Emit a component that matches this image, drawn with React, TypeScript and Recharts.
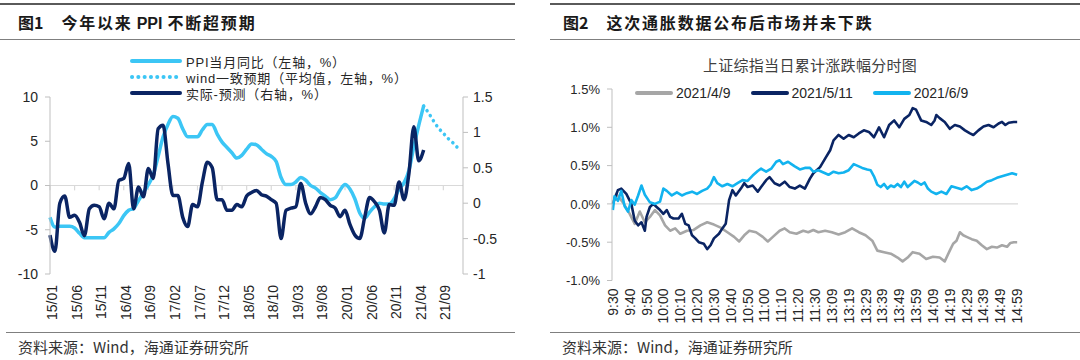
import React from 'react';
import { LineChart, Line, XAxis, YAxis, ReferenceLine, Legend } from 'recharts';

const FONT = '"Liberation Sans", Arial, "Noto Sans CJK SC", sans-serif';
const CJK = '"Noto Sans CJK SC", "Liberation Sans", sans-serif';
const TXT = '#262626';

// ---------- Left chart data ----------
const monthCategories: string[] = (() => {
  const out: string[] = [];
  for (let y = 15; y <= 22; y++) {
    for (let m = 1; m <= 12; m++) {
      if (y === 22 && m > 1) break;
      out.push(`${y}/${String(m).padStart(2, '0')}`);
    }
  }
  return out;
})();

const ppiYoY: number[] = [
  -3.6, -4.7, -4.6, -4.6, -4.6, -4.8, -5.4, -5.9, -5.9, -5.9, -5.9, -5.9,
  -5.3, -4.9, -4.3, -3.4, -2.8, -2.6, -1.7, -0.8, 0.1, 1.2, 3.3, 5.5,
  6.9, 7.8, 7.6, 6.4, 5.5, 5.5, 5.5, 6.3, 6.9, 6.9, 5.8, 4.9,
  4.3, 3.7, 3.1, 3.4, 4.1, 4.7, 4.6, 4.1, 3.6, 3.3, 2.7, 0.9,
  0.1, 0.1, 0.4, 0.9, 0.6, 0.0, -0.3, -0.8, -1.2, -1.6, -1.4, -0.5,
  0.1, -0.4, -1.5, -3.1, -3.7, -3.0, -2.4, -2.0, -2.1, -2.1, -1.5, -0.4,
  0.3, 1.7, 4.4, 6.8, 9.0,
];
const windStartIndex = 76;
const windConsensus: number[] = [9.0, 8.2, 7.3, 6.5, 5.9, 5.3, 4.8, 4.2];
const actualMinusForecast: number[] = [
  -0.45, -0.68, 0.0, 0.1, -0.2, -0.17, -0.27, -0.46, -0.08, -0.03, -0.05, -0.22,
  0.0, -0.08, 0.32, 0.35, 0.56, -0.08, 0.23, 0.09, 0.49, 0.35, 1.05, 1.1,
  0.56, 0.11, 0.11, -0.2, -0.33, -0.02, -0.05, 0.3, 0.58, 0.5, 0.05, 0.05,
  -0.1, -0.1, -0.02, -0.05, 0.1, 0.15, 0.18, 0.12, 0.1, 0.05, 0.0, -0.5,
  -0.1, -0.07, -0.05, 0.28, 0.0, -0.15, -0.05, 0.08, 0.05, -0.03, -0.07, -0.19,
  -0.1, -0.3, -0.45, -0.5, -0.2, 0.08, 0.02, -0.1, -0.42, -0.02, -0.03, 0.3,
  0.05, 0.42, 1.08, 0.6, 0.75,
];
const leftTicks: number[] = [-10, -5, 0, 5, 10];
const rightTicks: number[] = [-1, -0.5, 0, 0.5, 1, 1.5];

const leftData = monthCategories.map((c, i) => ({
  c,
  ppi: i < ppiYoY.length ? ppiYoY[i] : null,
  wind: i >= windStartIndex && i < windStartIndex + windConsensus.length ? windConsensus[i - windStartIndex] : null,
  diff: i < actualMinusForecast.length ? actualMinusForecast[i] : null,
}));

// ---------- Right chart data ([minute index, cumulative change %]) ----------
const timeLabels: string[] = [
  '9:30', '9:40', '9:50', '10:00', '10:10', '10:20', '10:30', '10:40', '10:50', '11:00', '11:10', '11:20', '11:30',
  '13:09', '13:19', '13:29', '13:39', '13:49', '13:59', '14:09', '14:19', '14:29', '14:39', '14:49', '14:59',
];
const pctTicks: number[] = [-1, -0.5, 0, 0.5, 1, 1.5];

const apr9: [number, number][] = [
  [0, 0], [2, 0.13], [6, 0.02], [10, -0.13], [13, -0.26], [16, -0.1], [19, -0.24], [22, -0.17], [25, -0.08], [28, -0.15],
  [31, -0.28], [34, -0.35], [37, -0.32], [40, -0.39], [44, -0.35], [48, -0.34], [52, -0.28], [56, -0.24], [60, -0.27],
  [64, -0.31], [68, -0.37], [72, -0.43], [75, -0.49], [78, -0.41], [81, -0.35], [85, -0.37], [89, -0.43], [92, -0.49],
  [95, -0.43], [99, -0.35], [102, -0.32], [105, -0.37], [109, -0.39], [113, -0.35], [116, -0.37], [119, -0.34],
  [122, -0.37], [126, -0.35], [130, -0.37], [134, -0.4], [138, -0.37], [142, -0.32], [146, -0.37], [150, -0.41],
  [154, -0.48], [157, -0.61], [161, -0.63], [165, -0.65], [169, -0.7], [172, -0.75], [175, -0.7], [178, -0.63],
  [182, -0.65], [186, -0.72], [190, -0.69], [194, -0.7], [197, -0.75], [200, -0.61], [202, -0.52], [204, -0.48],
  [206, -0.37], [208, -0.41], [210, -0.43], [213, -0.46], [216, -0.48], [219, -0.54], [222, -0.59], [225, -0.56],
  [228, -0.57], [231, -0.54], [234, -0.56], [236, -0.51], [238, -0.5], [240, -0.5],
];
const may11: [number, number][] = [
  [0, 0], [3, 0.18], [5, 0.2], [8, 0.13], [11, 0.0], [13, -0.22], [15, -0.28], [17, -0.24], [19, -0.35], [20, -0.17],
  [22, -0.04], [24, 0.0], [26, -0.04], [28, -0.08], [30, -0.13], [32, -0.08], [34, -0.17], [36, -0.19], [39, -0.19],
  [41, -0.13], [43, -0.26], [45, -0.28], [47, -0.41], [49, -0.45], [51, -0.5], [54, -0.52], [56, -0.59], [58, -0.54],
  [60, -0.45], [63, -0.39], [65, -0.32], [67, -0.26], [69, 0.05], [71, 0.18], [73, 0.11], [76, 0.2], [78, 0.27],
  [80, 0.22], [83, 0.24], [86, 0.16], [88, 0.22], [91, 0.31], [93, 0.35], [96, 0.27], [99, 0.24], [102, 0.29],
  [105, 0.22], [108, 0.2], [111, 0.24], [114, 0.2], [117, 0.33], [119, 0.4], [123, 0.48], [126, 0.59], [129, 0.7],
  [131, 0.83], [134, 0.9], [137, 0.85], [140, 0.9], [143, 0.87], [146, 0.92], [149, 0.96], [152, 0.94], [155, 0.87],
  [158, 1.0], [161, 0.87], [164, 1.03], [167, 1.09], [170, 1.0], [173, 1.11], [176, 1.16], [178, 1.25], [180, 1.23],
  [183, 1.09], [186, 1.07], [189, 1.03], [191, 1.09], [192, 1.16], [194, 1.12], [197, 1.07], [200, 0.98], [203, 1.03],
  [206, 1.01], [209, 0.96], [212, 0.92], [214, 0.9], [217, 0.96], [220, 1.01], [223, 1.03], [226, 1.0], [229, 1.05],
  [231, 1.07], [233, 1.03], [235, 1.06], [238, 1.07], [240, 1.07],
];
const jun9: [number, number][] = [
  [0, -0.08], [1, 0.1], [3, 0.04], [5, 0.17], [7, -0.03], [9, -0.1], [11, 0.05], [13, -0.01], [15, 0.11], [17, 0.24],
  [19, 0.12], [22, 0.02], [25, 0.0], [28, 0.03], [30, 0.2], [32, 0.17], [35, 0.11], [38, 0.15], [41, 0.11], [44, 0.14],
  [47, 0.16], [50, 0.13], [53, 0.17], [56, 0.2], [58, 0.25], [60, 0.35], [62, 0.27], [65, 0.23], [68, 0.26], [71, 0.23],
  [74, 0.27], [77, 0.31], [80, 0.3], [83, 0.37], [86, 0.43], [88, 0.46], [91, 0.42], [94, 0.46], [97, 0.55], [99, 0.57],
  [101, 0.52], [104, 0.55], [106, 0.52], [108, 0.49], [111, 0.45], [114, 0.47], [117, 0.47], [119, 0.42], [122, 0.44],
  [125, 0.41], [128, 0.38], [131, 0.42], [134, 0.4], [137, 0.41], [140, 0.44], [143, 0.52], [145, 0.5], [148, 0.47],
  [151, 0.45], [153, 0.44], [155, 0.36], [157, 0.25], [159, 0.22], [161, 0.26], [163, 0.2], [165, 0.24], [167, 0.22],
  [169, 0.26], [171, 0.22], [173, 0.29], [175, 0.22], [177, 0.26], [179, 0.3], [181, 0.28], [183, 0.25], [185, 0.28],
  [187, 0.2], [189, 0.16], [192, 0.13], [195, 0.16], [198, 0.13], [201, 0.23], [204, 0.21], [207, 0.19], [210, 0.23],
  [213, 0.18], [216, 0.2], [219, 0.24], [222, 0.29], [225, 0.31], [228, 0.34], [231, 0.36], [234, 0.38], [237, 0.4],
  [240, 0.38],
];
const toPoints = (arr: [number, number][]) => arr.map(([m, v]) => ({ m, v }));

// ---------- Colors ----------
const LIGHT_L = '#3cc6f5';
const NAVY = '#0a2463';
const GRAY = '#a6a6a6';
const LIGHT_R = '#12b3ef';
const AXIS = '#bfbfbf';
const GRID = '#d9d9d9';

// ---------- Ticks ----------
const LeftXTick = (props: any) => {
  const { x, y, payload } = props;
  return (
    <text transform={`translate(${x + 7},${y + 11}) rotate(-90)`} textAnchor="end" fontSize={14} fill={TXT} fontFamily={FONT}>
      {payload.value}
    </text>
  );
};
const RightXTick = (props: any) => {
  const { x, y, payload } = props;
  const label = timeLabels[Math.round(payload.value / 10)];
  return (
    <text transform={`translate(${x + 5},${y + 8}) rotate(-90)`} textAnchor="end" fontSize={14} fill={TXT} fontFamily={FONT}>
      {label}
    </text>
  );
};

// ---------- Legends ----------
const leftLegendRows = [
  { label: 'PPI当月同比（左轴，%）', color: LIGHT_L, dotted: false },
  { label: 'wind一致预期（平均值，左轴，%）', color: LIGHT_L, dotted: true },
  { label: '实际-预测（右轴，%）', color: NAVY, dotted: false },
];
const LeftLegend = () => (
  <div style={{ fontFamily: FONT, fontSize: 13, color: TXT, letterSpacing: 0.8 }}>
    {leftLegendRows.map((r) => (
      <div key={r.label} style={{ display: 'flex', alignItems: 'center', height: 16, whiteSpace: 'nowrap' }}>
        <svg width={52} height={8} style={{ marginRight: 4 }}>
          <line x1={2} y1={4} x2={50} y2={4} stroke={r.color} strokeWidth={4} strokeLinecap="round"
            strokeDasharray={r.dotted ? '0.1 6.2' : undefined} />
        </svg>
        <span>{r.label}</span>
      </div>
    ))}
  </div>
);

const rightLegendItems = [
  { label: '2021/4/9', color: GRAY },
  { label: '2021/5/11', color: NAVY },
  { label: '2021/6/9', color: LIGHT_R },
];
const RightLegend = () => (
  <div style={{ display: 'flex', alignItems: 'center', fontFamily: FONT, fontSize: 14, color: TXT, whiteSpace: 'nowrap' }}>
    {rightLegendItems.map((it) => (
      <div key={it.label} style={{ display: 'flex', alignItems: 'center', marginRight: 20, height: 16 }}>
        <svg width={38} height={8} style={{ marginRight: 3 }}>
          <line x1={2} y1={4} x2={36} y2={4} stroke={it.color} strokeWidth={4} strokeLinecap="round" />
        </svg>
        <span>{it.label}</span>
      </div>
    ))}
  </div>
);

// ---------- Charts ----------
const LeftChart = () => (
  <LineChart width={540} height={360} data={leftData} margin={{ top: 97, right: 37, bottom: 46, left: 5 }}>
    <XAxis dataKey="c" interval={4} axisLine={false} tickLine={false} tickSize={0} tickMargin={0} height={40}
      tick={<LeftXTick />} />
    <YAxis yAxisId="left" domain={[-10, 10]} ticks={leftTicks} width={45} stroke={AXIS}
      tickSize={5} tickMargin={7} tick={{ fontSize: 14, fill: TXT, fontFamily: FONT }} allowDataOverflow />
    <YAxis yAxisId="right" orientation="right" domain={[-1, 1.5]} ticks={rightTicks} width={40} stroke={AXIS}
      tickSize={5} tickMargin={5} tick={{ fontSize: 14, fill: TXT, fontFamily: FONT, textAnchor: 'start' }} allowDataOverflow />
    <ReferenceLine yAxisId="left" y={0} stroke={GRID} strokeWidth={1.2} />
    {monthCategories.map((c, i) =>
      i % 5 === 0 && i <= 80 ? (
        <ReferenceLine key={c} yAxisId="left" stroke={GRID} strokeWidth={1.2}
          segment={[{ x: c, y: 0 }, { x: c, y: -0.55 }]} />
      ) : null
    )}
    <Line yAxisId="left" dataKey="ppi" type="monotone" stroke={LIGHT_L} strokeWidth={3.5} dot={false} activeDot={false}
      isAnimationActive={false} strokeLinejoin="round" />
    <Line yAxisId="left" dataKey="wind" type="monotone" stroke={LIGHT_L} strokeWidth={3.5} dot={false} activeDot={false}
      isAnimationActive={false} strokeDasharray="0.1 5.8" strokeLinecap="round" />
    <Line yAxisId="right" dataKey="diff" type="monotone" stroke={NAVY} strokeWidth={3.5} dot={false} activeDot={false}
      isAnimationActive={false} strokeLinejoin="round" />
    <Legend layout="vertical" align="center" verticalAlign="middle" content={<LeftLegend />}
      wrapperStyle={{ left: 130, top: 53, width: 320, height: 48 }} />
  </LineChart>
);

const RightChart = () => (
  <LineChart width={540} height={360} margin={{ top: 89, right: 62, bottom: 39.5, left: 10 }}>
    <XAxis type="number" dataKey="m" domain={[-0.5, 240.5]} ticks={timeLabels.map((_, i) => i * 10)} interval={0}
      axisLine={false} tickLine={false} tickSize={0} tickMargin={0} height={40} tick={<RightXTick />}
      allowDuplicatedCategory={false} />
    <YAxis domain={[-1, 1.5]} ticks={pctTicks} width={62} stroke={AXIS} tickSize={5} tickMargin={7}
      tickFormatter={(v: number) => `${v.toFixed(1)}%`} tick={{ fontSize: 13, fill: TXT, fontFamily: FONT }} />
    <ReferenceLine y={0} stroke={GRID} strokeWidth={1.2} />
    <Line data={toPoints(apr9)} dataKey="v" type="linear" stroke={GRAY} strokeWidth={2.6} dot={false} activeDot={false}
      isAnimationActive={false} strokeLinejoin="round" />
    <Line data={toPoints(may11)} dataKey="v" type="linear" stroke={NAVY} strokeWidth={2.6} dot={false} activeDot={false}
      isAnimationActive={false} strokeLinejoin="round" />
    <Line data={toPoints(jun9)} dataKey="v" type="linear" stroke={LIGHT_R} strokeWidth={2.6} dot={false} activeDot={false}
      isAnimationActive={false} strokeLinejoin="round" />
    <Legend layout="vertical" align="center" verticalAlign="middle" content={<RightLegend />}
      wrapperStyle={{ left: 95, top: 85, width: 420, height: 16 }} />
  </LineChart>
);

const ruleTop: React.CSSProperties = { position: 'absolute', height: 2, background: '#5a5a5a' };
const ruleThin: React.CSSProperties = { position: 'absolute', height: 1, background: '#7f7f7f' };
const titleStyle: React.CSSProperties = {
  position: 'absolute', top: 12, fontFamily: CJK, fontSize: 16, fontWeight: 700, color: '#1a1a1a',
  lineHeight: '20px', whiteSpace: 'nowrap',
};
const cjkSpaced: React.CSSProperties = { letterSpacing: 1.8 };
const sourceStyle: React.CSSProperties = {
  position: 'absolute', top: 337, fontFamily: CJK, fontSize: 15, color: '#333', lineHeight: '20px', whiteSpace: 'nowrap',
};

export default function App() {
  return (
    <div style={{ position: 'absolute', left: 0, top: 0, width: 1080, height: 360, background: '#fff', overflow: 'hidden' }}>
      <div style={{ position: 'absolute', left: 0, top: 0 }}>
        <LeftChart />
      </div>
      <div style={{ position: 'absolute', left: 540, top: 0 }}>
        <RightChart />
      </div>

      <div style={{ ...ruleTop, left: 0, top: 3, width: 515 }} />
      <div style={{ ...ruleTop, left: 550, top: 3, width: 530 }} />
      <div style={{ ...ruleThin, left: 0, top: 39, width: 515 }} />
      <div style={{ ...ruleThin, left: 550, top: 39, width: 530 }} />
      <div style={{ ...ruleThin, left: 6, top: 332, width: 509 }} />
      <div style={{ ...ruleThin, left: 550, top: 332, width: 530 }} />

      <div style={{ ...titleStyle, left: 18 }}>
        图1
        <span style={{ marginLeft: 18, ...cjkSpaced }}>今年以来</span>
        <span style={{ fontFamily: FONT, marginLeft: 4 }}>PPI</span>
        <span style={{ marginLeft: 5, ...cjkSpaced }}>不断超预期</span>
      </div>
      <div style={{ ...titleStyle, left: 563 }}>
        图2<span style={{ marginLeft: 18, ...cjkSpaced }}>这次通胀数据公布后市场并未下跌</span>
      </div>

      <div style={{ position: 'absolute', left: 540, width: 540, top: 55, textAlign: 'center', fontFamily: CJK,
        fontSize: 15, color: '#404040', letterSpacing: 0.3, lineHeight: '20px' }}>
        上证综指当日累计涨跌幅分时图
      </div>

      <div style={{ ...sourceStyle, left: 18 }}>资料来源：Wind，海通证券研究所</div>
      <div style={{ ...sourceStyle, left: 562 }}>资料来源：Wind，海通证券研究所</div>
    </div>
  );
}
